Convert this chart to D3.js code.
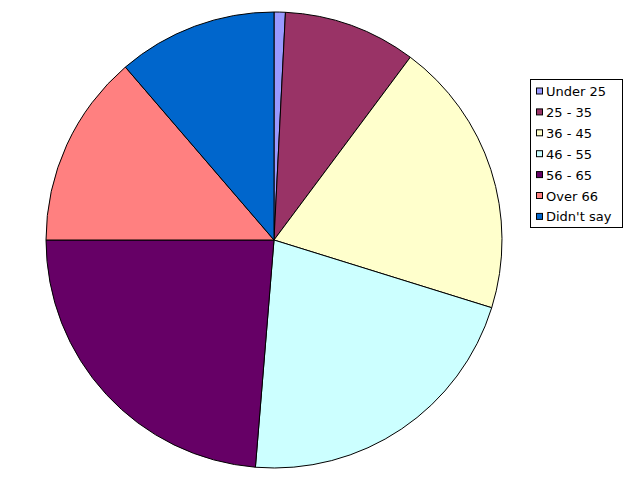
<!DOCTYPE html>
<html><head><meta charset="utf-8">
<script src="https://cdn.jsdelivr.net/npm/d3@7"></script>
<style>body{margin:0;background:#fff}svg{display:block}</style>
</head><body>
<script>
const categories = ["Under 25", "25 - 35", "36 - 45", "46 - 55", "56 - 65", "Over 66", "Didn't say"];
const values = [0.8, 9.4, 19.6, 21.5, 23.7, 13.7, 11.3];
const colors = ["#9999FF", "#993366", "#FFFFCC", "#CCFFFF", "#660066", "#FF8080", "#0066CC"];

const W = 639, H = 490;
const svg = d3.select("body").append("svg").attr("width", W).attr("height", H);
const cx = 274, cy = 240, r = 228;
const pie = d3.pie().sort(null).value(d => d)(values);
const arc = d3.arc().innerRadius(0).outerRadius(r);
svg.append("g").attr("transform", `translate(${cx},${cy})`)
  .selectAll("path").data(pie).join("path")
  .attr("d", arc).attr("fill", (d, i) => colors[i])
  .attr("stroke", "#000").attr("stroke-width", 1).attr("stroke-linejoin", "round");

const lg = svg.append("g");
lg.append("rect").attr("x", 530.5).attr("y", 79.5).attr("width", 92).attr("height", 148)
  .attr("fill", "#fff").attr("stroke", "#000");
const y0 = 91.5, dy = 20.9;
categories.forEach((c, i) => {
  const y = y0 + i * dy;
  lg.append("rect").attr("x", 536.5).attr("y", y - 3.5).attr("width", 6).attr("height", 6)
    .attr("fill", colors[i]).attr("stroke", "#000").attr("stroke-width", 1);
  lg.append("text").attr("x", 546).attr("y", y + 4.5).text(c)
    .attr("font-family", "DejaVu Sans, Verdana, sans-serif").attr("font-size", 13).attr("fill", "#000");
});
</script>
</body></html>
